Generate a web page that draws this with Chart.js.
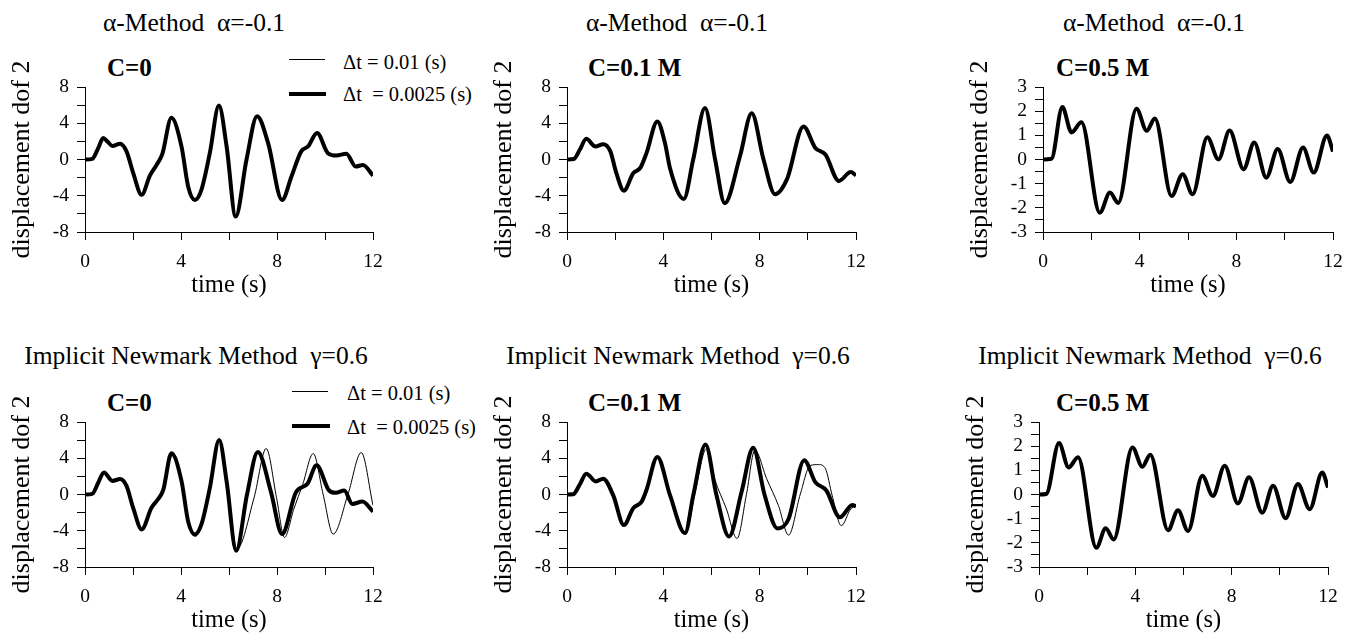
<!DOCTYPE html>
<html>
<head>
<meta charset="utf-8">
<script src="https://cdn.jsdelivr.net/npm/chart.js@4.4.1/dist/chart.umd.min.js"></script>
<style>
  html, body { margin: 0; padding: 0; background: #fff; }
  body { width: 1353px; height: 633px; position: relative; overflow: hidden; font-family: "Liberation Serif", "Times New Roman", serif; color: #000; }
  canvas { position: absolute; }
  .txt { position: absolute; white-space: pre; line-height: 1; }
  .title { font-size: 25.5px; transform: translate(-50%, -50%); }
  .case { font-size: 25px; font-weight: bold; transform: translateY(-50%); }
  .leg { font-size: 20.5px; transform: translateY(-50%); }
  .line { position: absolute; background: #000; }
</style>
</head>
<body>

<!-- titles -->
<div class="txt title" style="left:194px;top:23px">α-Method  α=-0.1</div>
<div class="txt title" style="left:677px;top:23px">α-Method  α=-0.1</div>
<div class="txt title" style="left:1154px;top:23px">α-Method  α=-0.1</div>
<div class="txt title" style="left:196px;top:356px">Implicit Newmark Method  γ=0.6</div>
<div class="txt title" style="left:678px;top:356px">Implicit Newmark Method  γ=0.6</div>
<div class="txt title" style="left:1150px;top:356px">Implicit Newmark Method  γ=0.6</div>

<!-- damping cases -->
<div class="txt case" style="left:107px;top:67px">C=0</div>
<div class="txt case" style="left:588px;top:67px">C=0.1 M</div>
<div class="txt case" style="left:1056px;top:67px">C=0.5 M</div>
<div class="txt case" style="left:107px;top:402px">C=0</div>
<div class="txt case" style="left:588px;top:402px">C=0.1 M</div>
<div class="txt case" style="left:1056px;top:402px">C=0.5 M</div>

<!-- legends -->
<div class="line" style="left:289px;top:59px;width:36px;height:1px"></div>
<div class="txt leg" style="left:343px;top:62px">Δt = 0.01 (s)</div>
<div class="line" style="left:289px;top:92px;width:37px;height:4px"></div>
<div class="txt leg" style="left:343px;top:94px">Δt  = 0.0025 (s)</div>
<div class="line" style="left:292px;top:391px;width:36px;height:1px"></div>
<div class="txt leg" style="left:347px;top:393px">Δt = 0.01 (s)</div>
<div class="line" style="left:292px;top:424px;width:38px;height:4px"></div>
<div class="txt leg" style="left:347px;top:427px">Δt  = 0.0025 (s)</div>

<canvas id="c1"></canvas>
<canvas id="c2"></canvas>
<canvas id="c3"></canvas>
<canvas id="c4"></canvas>
<canvas id="c5"></canvas>
<canvas id="c6"></canvas>

<script>
// axis ticks
const xTicks = [0, 4, 8, 12];
const yTicksWide = [-8, -4, 0, 4, 8];
const yTicksNarrow = [-3, -2, -1, 0, 1, 2, 3];

// alpha-method, C=0 (both time steps overlap)
const timeA0 = [0, 0.3, 0.55, 0.76, 0.93, 1.14, 1.46, 1.73, 2.01, 2.36, 2.7, 2.98, 3.22, 3.6, 4.02, 4.3, 4.58, 4.85, 5.2, 5.58, 5.9, 6.28, 6.73, 7.17, 7.63, 8.21, 8.6, 9.01, 9.29, 9.67, 10.12, 10.47, 10.89, 11.28, 11.58, 12];
const dispA0 = [0, 0.07, 1.25, 2.37, 2.0, 1.5, 1.74, 0.9, -1.5, -3.9, -1.8, -0.6, 0.6, 4.6, 1.45, -3.0, -4.47, -3.35, 0.7, 5.95, 1.45, -6.3, 0, 4.77, 1.8, -4.47, -1.9, 0.9, 1.44, 2.92, 0.7, 0.44, 0.63, -0.78, -0.6, -1.77];

// alpha-method, C=0.1 M
const timeA01 = [0, 0.28, 0.53, 0.8, 1.18, 1.5, 1.8, 2.05, 2.36, 2.75, 3.05, 3.3, 3.75, 4.07, 4.28, 4.85, 5.24, 5.73, 6.15, 6.55, 7.18, 7.67, 8.16, 8.64, 9.13, 9.82, 10.31, 10.73, 11.29, 11.78, 12];
const dispA01 = [0, 0.05, 1.07, 2.28, 1.44, 1.68, 0.9, -1.5, -3.44, -1.52, -0.9, 0.7, 4.2, 1.8, -1.0, -4.36, 0, 5.67, 0, -4.82, 0.33, 5.1, 0, -3.84, -2.2, 3.65, 1.28, 0.55, -2.37, -1.39, -1.75];

// alpha-method, C=0.5 M
const timeA05 = [0, 0.35, 0.8, 1.18, 1.59, 2.35, 2.77, 3.11, 3.87, 4.29, 4.63, 5.32, 5.78, 6.19, 6.8, 7.26, 7.72, 8.3, 8.74, 9.24, 9.71, 10.23, 10.76, 11.2, 11.75, 12];
const dispA05 = [0, 0.03, 2.17, 1.12, 1.54, -2.2, -1.37, -1.8, 2.1, 1.19, 1.7, -1.51, -0.61, -1.44, 0.92, 0.0, 1.2, -0.4, 0.7, -0.75, 0.43, -0.93, 0.5, -0.54, 0.99, 0.33];

// Newmark, C=0, dt = 0.0025
const timeN0 = [0, 0.3, 0.55, 0.79, 1.14, 1.46, 1.73, 2.01, 2.36, 2.77, 3.05, 3.26, 3.6, 4.02, 4.3, 4.58, 4.85, 5.2, 5.59, 5.9, 6.3, 6.75, 7.2, 7.75, 8.21, 8.79, 9.27, 9.65, 10.17, 10.45, 10.8, 11.14, 11.56, 12];
const dispN0 = [0, 0.07, 1.3, 2.44, 1.5, 1.7, 0.95, -1.5, -3.85, -1.45, -0.5, 0.5, 4.55, 1.5, -3.0, -4.4, -3.3, 0.7, 6.02, 1.45, -6.22, 0, 4.7, 0.26, -4.37, 0.26, 1.19, 3.22, 0.44, 0.19, 0.44, -1.04, -0.78, -1.89];

// Newmark, C=0, dt = 0.01
const timeN0c = [0, 0.3, 0.55, 0.79, 1.14, 1.46, 1.73, 2.01, 2.36, 2.77, 3.05, 3.26, 3.6, 4.02, 4.3, 4.6, 4.87, 5.2, 5.6, 5.92, 6.33, 7.05, 7.55, 7.98, 8.31, 8.7, 9.07, 9.51, 9.92, 10.34, 10.96, 11.51, 12];
const dispN0c = [0, 0.07, 1.3, 2.44, 1.5, 1.7, 0.95, -1.5, -3.85, -1.45, -0.5, 0.5, 4.55, 1.5, -3.0, -4.6, -3.4, 0.5, 5.9, 1.5, -6.0, -0.3, 5.07, -0.35, -4.74, -1.6, 1.1, 4.52, 0.04, -4.37, 0.04, 4.63, -1.2];

// Newmark, C=0.1 M, dt = 0.0025
const timeN01 = [0, 0.25, 0.53, 0.8, 1.2, 1.5, 1.92, 2.36, 2.75, 3.1, 3.3, 3.75, 4.28, 4.9, 5.25, 5.75, 6.2, 6.73, 7.25, 7.73, 8.2, 8.74, 9.2, 9.85, 10.31, 10.77, 11.33, 11.85, 12];
const dispN01 = [0, 0.02, 1.1, 2.3, 1.44, 1.74, -0.1, -3.37, -1.52, -0.78, 0.5, 4.15, -0.1, -4.26, 0, 5.52, 0, -4.63, 0.3, 5.15, 0, -3.74, -2.7, 3.78, 1.37, 0.44, -2.52, -1.15, -1.3];

// Newmark, C=0.1 M, dt = 0.01
const timeN01c = [0, 0.25, 0.53, 0.8, 1.2, 1.5, 1.92, 2.36, 2.75, 3.1, 3.3, 3.75, 4.41, 4.92, 5.3, 5.8, 6.13, 6.62, 7.06, 7.45, 7.8, 8.29, 8.78, 9.2, 9.69, 10.1, 10.45, 10.73, 11.01, 11.39, 11.78, 12];
const dispN01c = [0, 0.02, 1.1, 2.3, 1.44, 1.74, -0.1, -3.37, -1.52, -0.78, 0.5, 4.15, -1.45, -4.4, 0, 5.1, 1.74, -1.6, -4.85, 0, 4.9, 1.74, -1.22, -4.48, 0.07, 3.2, 3.3, 2.85, -0.1, -3.44, -1.6, -1.3];

// Newmark, C=0.5 M (both time steps overlap)
const timeN05 = [0, 0.3, 0.83, 1.23, 1.62, 2.38, 2.77, 3.1, 3.88, 4.29, 4.62, 5.36, 5.77, 6.19, 6.78, 7.22, 7.71, 8.26, 8.72, 9.27, 9.72, 10.24, 10.75, 11.24, 11.76, 12];
const dispN05 = [0, 0.02, 2.13, 1.12, 1.54, -2.2, -1.4, -1.86, 1.95, 1.15, 1.65, -1.48, -0.65, -1.51, 0.78, -0.06, 1.19, -0.37, 0.71, -0.75, 0.36, -0.98, 0.43, -0.61, 0.91, 0.29];

const serif = "'Liberation Serif', 'Times New Roman', serif";

function pts(ts, ys) {
    return ts.map((t, i) => ({ x: t, y: ys[i] }));
}

function makePanel(id, pos, coarse, fine, yRange, yLabels) {
    const cv = document.getElementById(id);
    const plotW = pos.right - pos.left;
    cv.width = 85 + plotW + 30;
    cv.height = 300;
    cv.style.left = (pos.left - 85) + 'px';
    cv.style.top = (pos.top - 87) + 'px';

    const axisGrid = { display: true, drawOnChartArea: false, drawTicks: true, tickLength: 8, color: '#000', lineWidth: 1 };
    const axisBorder = { display: true, color: '#000', width: 1 };

    new Chart(cv, {
        type: 'line',
        data: {
            datasets: [
                { data: pts(fine[0], fine[1]), borderColor: '#000', borderWidth: 4, pointRadius: 0, fill: false },
                { data: pts(coarse[0], coarse[1]), borderColor: '#000', borderWidth: 1, pointRadius: 0, fill: false }
            ]
        },
        options: {
            responsive: false,
            animation: false,
            events: [],
            layout: { padding: { top: 87, right: 30, left: 0, bottom: 0 } },
            elements: { line: { cubicInterpolationMode: 'monotone' } },
            plugins: { legend: { display: false }, tooltip: { enabled: false } },
            scales: {
                x: {
                    type: 'linear', min: 0, max: 12,
                    ticks: {
                        stepSize: 2, autoSkip: false, maxRotation: 0, padding: 10,
                        color: '#000', font: { family: serif, size: 19.5 },
                        callback: v => xTicks.includes(v) ? String(v) : ''
                    },
                    grid: axisGrid,
                    border: axisBorder,
                    title: { display: true, text: 'time (s)', color: '#000', font: { family: serif, size: 24.5 }, padding: { top: 0, bottom: 0 } },
                    afterFit: s => { s.height = 68; }
                },
                y: {
                    type: 'linear', min: yRange[0], max: yRange[1],
                    ticks: {
                        stepSize: yRange[2], autoSkip: false, padding: 8,
                        color: '#000', font: { family: serif, size: 19.5 },
                        callback: v => yLabels.includes(v) ? String(v) : ''
                    },
                    grid: axisGrid,
                    border: axisBorder,
                    title: { display: true, text: 'displacement dof 2', color: '#000', font: { family: serif, size: 26 }, padding: { top: 7, bottom: 0 } },
                    afterFit: s => { s.width = 85; }
                }
            }
        }
    });
}

makePanel('c1', { left: 85, right: 373, top: 87 }, [timeA0, dispA0], [timeA0, dispA0], [-8, 8, 2], yTicksWide);
makePanel('c2', { left: 567, right: 856, top: 87 }, [timeA01, dispA01], [timeA01, dispA01], [-8, 8, 2], yTicksWide);
makePanel('c3', { left: 1043, right: 1333, top: 87 }, [timeA05, dispA05], [timeA05, dispA05], [-3, 3, 0.5], yTicksNarrow);
makePanel('c4', { left: 85, right: 373, top: 422 }, [timeN0c, dispN0c], [timeN0, dispN0], [-8, 8, 2], yTicksWide);
makePanel('c5', { left: 567, right: 856, top: 422 }, [timeN01c, dispN01c], [timeN01, dispN01], [-8, 8, 2], yTicksWide);
makePanel('c6', { left: 1039, right: 1328, top: 422 }, [timeN05, dispN05], [timeN05, dispN05], [-3, 3, 0.5], yTicksNarrow);
</script>
</body>
</html>
